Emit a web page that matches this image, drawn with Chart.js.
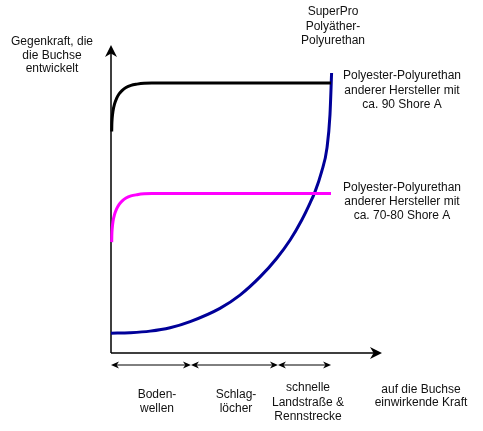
<!DOCTYPE html>
<html>
<head>
<meta charset="utf-8">
<script src="https://cdn.jsdelivr.net/npm/chart.js@4"></script>
<style>
  body { margin: 0; background: #fff; }
  #wrap { width: 483px; height: 431px; position: relative; }
</style>
</head>
<body>
<div id="wrap"><canvas id="chart"></canvas></div>
<script>
// ===== DATEN (Achsen 0..100 ohne Einheit) =====
const blackX   = [0.26, 0.30, 0.44, 0.74, 1.29, 2.03, 2.95, 4.06, 5.54, 7.38, 9.59, 12.18, 15.02, 81.18];
const blackY   = [71.9, 74.0, 76.3, 78.6, 80.8, 82.6, 84.1, 85.2, 86.2, 86.9, 87.3, 87.6, 87.7, 87.7];
const magentaX = [0.26, 0.30, 0.44, 0.74, 1.29, 2.03, 2.95, 4.06, 5.54, 7.38, 9.59, 12.18, 15.02, 81.18];
const magentaY = [36.0, 38.1, 40.4, 42.7, 44.9, 46.7, 48.2, 49.3, 50.3, 51.0, 51.4, 51.7, 51.8, 51.8];
const blueX    = [0, 7.0, 14.4, 21.8, 29.2, 40.2, 47.6, 55.0, 61.1, 66.1, 70.4, 73.4, 75.3, 77.7, 79.7, 80.8, 81.4];
const blueY    = [6.4, 6.6, 7.1, 8.2, 10.2, 14.5, 18.8, 24.7, 30.7, 36.7, 43.2, 48.6, 52.4, 58.8, 66.6, 77.3, 90.9];

// Bereiche auf der Kraft-Achse
const rangeEdges  = [0, 29.5, 61.6, 81.2];
const rangeLabels = [['Boden-', 'wellen'], ['Schlag-', 'löcher'], ['schnelle', 'Landstraße &', 'Rennstrecke']];

// Beschriftungen
const yAxisTitle = ['Gegenkraft, die', 'die Buchse', 'entwickelt'];
const xAxisTitle = ['auf die Buchse', 'einwirkende Kraft'];
const seriesNames = [
    ['Polyester-Polyurethan', 'anderer Hersteller mit', 'ca. 90 Shore A'],
    ['Polyester-Polyurethan', 'anderer Hersteller mit', 'ca. 70-80 Shore A'],
    ['SuperPro', 'Polyäther-', 'Polyurethan']
];

const toPoints = (xs, ys) => xs.map((x, i) => ({ x: x, y: ys[i] }));

// ===== HILFSFUNKTIONEN ZEICHNEN =====
function arrowHead(ctx, x, y, angle, len, half) {
    ctx.save();
    ctx.translate(x, y);
    ctx.rotate(angle);
    ctx.beginPath();
    ctx.moveTo(0, 0);
    ctx.lineTo(-len, -half);
    ctx.lineTo(-len * 0.7, 0);
    ctx.lineTo(-len, half);
    ctx.closePath();
    ctx.fill();
    ctx.restore();
}

function textBlock(ctx, lines, cx, cy, lh) {
    lines.forEach((t, i) => ctx.fillText(t, cx, cy + i * lh));
}

const schemaPlugin = {
    id: 'schema',
    beforeDatasetsDraw(chart) {
        const { ctx, chartArea: a } = chart;
        ctx.save();
        ctx.strokeStyle = '#000';
        ctx.fillStyle = '#000';
        ctx.lineWidth = 1.5;
        ctx.beginPath();
        ctx.moveTo(a.left, a.bottom);
        ctx.lineTo(a.left, a.top + 8);
        ctx.moveTo(a.left, a.bottom);
        ctx.lineTo(a.right - 8, a.bottom);
        ctx.stroke();
        arrowHead(ctx, a.left, a.top, -Math.PI / 2, 12, 6);
        arrowHead(ctx, a.right, a.bottom, 0, 12, 6);
        ctx.restore();
    },
    afterDraw(chart) {
        const { ctx, chartArea: a, scales } = chart;
        const xs = scales.x, ys = scales.y;
        ctx.save();
        ctx.strokeStyle = '#000';
        ctx.fillStyle = '#000';
        ctx.lineWidth = 1;
        // Bereichspfeile
        const by = a.bottom + 12;
        for (let i = 0; i < rangeEdges.length - 1; i++) {
            const x0 = xs.getPixelForValue(rangeEdges[i]);
            const x1 = xs.getPixelForValue(rangeEdges[i + 1]);
            ctx.beginPath();
            ctx.moveTo(x0 + 5, by);
            ctx.lineTo(x1 - 5, by);
            ctx.stroke();
            arrowHead(ctx, x0, by, Math.PI, 8, 3.5);
            arrowHead(ctx, x1, by, 0, 8, 3.5);
        }
        ctx.font = '12px "Liberation Sans", Arial, sans-serif';
        ctx.textAlign = 'center';
        ctx.textBaseline = 'middle';
        ctx.fillStyle = '#111';
        textBlock(ctx, rangeLabels[0], 157, 395, 14);
        textBlock(ctx, rangeLabels[1], 236, 395, 14);
        textBlock(ctx, rangeLabels[2], 308, 388, 14.5);
        textBlock(ctx, xAxisTitle, 421, 390, 13);
        textBlock(ctx, yAxisTitle, 52, 42, 13.5);
        // Kurvenbeschriftungen an den Kurvenenden
        const endBlack = ys.getPixelForValue(blackY[blackY.length - 1]);
        const endMag = ys.getPixelForValue(magentaY[magentaY.length - 1]);
        textBlock(ctx, seriesNames[0], 402, endBlack - 7, 14.5);
        textBlock(ctx, seriesNames[1], 402, endMag - 6, 14);
        textBlock(ctx, seriesNames[2], 333, 12, 14.5);
        ctx.restore();
    }
};

const lineStyle = { showLine: true, pointRadius: 0, borderWidth: 3, fill: false, clip: false, cubicInterpolationMode: 'monotone' };

new Chart(document.getElementById('chart'), {
    type: 'scatter',
    data: {
        datasets: [
            Object.assign({ label: seriesNames[0].join(' '), data: toPoints(blackX, blackY), borderColor: '#000000' }, lineStyle),
            Object.assign({ label: seriesNames[1].join(' '), data: toPoints(magentaX, magentaY), borderColor: '#ff00ff' }, lineStyle),
            Object.assign({ label: seriesNames[2].join(' '), data: toPoints(blueX, blueY), borderColor: '#000099' }, lineStyle)
        ]
    },
    options: {
        responsive: true,
        maintainAspectRatio: false,
        animation: false,
        layout: { padding: { left: 111, right: 101, top: 45, bottom: 78 } },
        plugins: { legend: { display: false }, tooltip: { enabled: false } },
        scales: {
            x: { type: 'linear', min: 0, max: 100, display: false },
            y: { type: 'linear', min: 0, max: 100, display: false }
        }
    },
    plugins: [schemaPlugin]
});
</script>
</body>
</html>
